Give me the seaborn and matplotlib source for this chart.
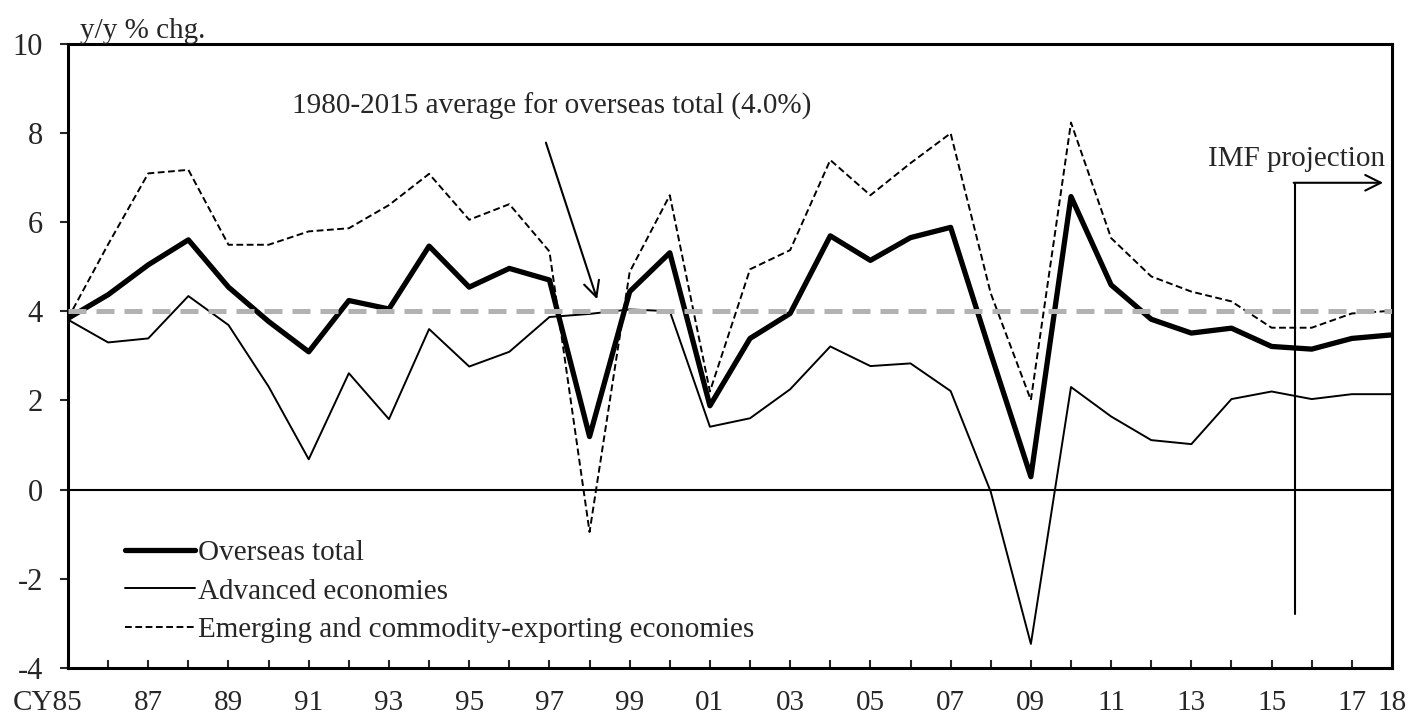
import numpy as np
import pandas as pd
import matplotlib
matplotlib.use("Agg")
import matplotlib.pyplot as plt
import matplotlib.transforms as mtransforms
import seaborn as sns

# values (y/y % chg.)
years = list(range(1985, 2019))
overseas = [3.84, 4.37, 5.04, 5.60, 4.54, 3.77, 3.09, 4.24, 4.05, 5.46, 4.54, 4.96, 4.70,
            1.19, 4.44, 5.31, 1.88, 3.39, 3.95, 5.69, 5.14, 5.65, 5.88, 3.05, 0.29, 6.57,
            4.59, 3.82, 3.51, 3.62, 3.21, 3.15, 3.39, 3.47]
advanced = [3.81, 3.30, 3.39, 4.34, 3.69, 2.31, 0.68, 2.61, 1.58, 3.60, 2.76, 3.09, 3.87,
            3.94, 4.04, 4.00, 1.41, 1.60, 2.25, 3.21, 2.77, 2.83, 2.21, -0.05, -3.46, 2.30,
            1.64, 1.11, 1.02, 2.03, 2.20, 2.03, 2.14, 2.14]
emerging = [3.84, 5.50, 7.09, 7.17, 5.49, 5.49, 5.79, 5.86, 6.38, 7.08, 6.05, 6.40, 5.34,
            -0.95, 4.88, 6.60, 2.20, 4.94, 5.37, 7.39, 6.60, 7.32, 7.99, 4.40, 2.01, 8.23,
            5.64, 4.78, 4.44, 4.22, 3.63, 3.63, 3.95, 4.01]
avg_overseas = 4.0

series_names = ["Overseas total", "Advanced economies",
                "Emerging and commodity-exporting economies"]
tick_labels = ["CY85" if y == 1985 else ("18" if y == 2018 else (f"{y % 100:02d}" if y % 2 == 1 else ""))
               for y in years]

df = pd.DataFrame({"year": years, "overseas": overseas,
                   "advanced": advanced, "emerging": emerging})

sns.set_style("white")
plt.rcParams["font.family"] = ["Liberation Serif", "DejaVu Serif"]
plt.rcParams["font.size"] = 21

fig, ax = plt.subplots(figsize=(14.08, 7.15), dpi=100)
fig.subplots_adjust(left=0.0483, right=0.9886, top=0.939, bottom=0.0657)

ax.axhline(0, color="black", lw=1.5, zorder=1)

sns.lineplot(data=df, x="year", y="overseas", ax=ax, color="black", lw=3.8,
             label=series_names[0], zorder=3)
sns.lineplot(data=df, x="year", y="advanced", ax=ax, color="black", lw=1.4,
             label=series_names[1], zorder=3)
sns.lineplot(data=df, x="year", y="emerging", ax=ax, color="black", lw=1.4,
             linestyle=(0, (3.5, 1.8)), label=series_names[2], zorder=3)

ax.axhline(avg_overseas, color="#b2b2b2", lw=3.6, linestyle=(0, (3.6, 2.0)), zorder=4)

ax.set_xlim(1985, 2018)
ax.set_ylim(-4, 10)
ax.set_yticks(np.arange(-4, 11, 2))
ax.set_yticklabels([f"{v:d}" for v in range(-4, 11, 2)])
ax.set_xticks(years)
ax.set_xticklabels(tick_labels)
ax.set_xlabel("")
ax.set_ylabel("")

for s in ax.spines.values():
    s.set_color("black")
    s.set_linewidth(2.2)
ax.tick_params(axis="x", direction="in", length=6, width=1.5, pad=16, labelsize=21, bottom=True)
ax.tick_params(axis="y", direction="out", length=6, width=1.5, pad=12, labelsize=22, left=True)

# nudge the first label left like the original
lbl = ax.get_xticklabels()[0]
lbl.set_transform(lbl.get_transform() + mtransforms.ScaledTranslation(-20 / 100, 0, fig.dpi_scale_trans))

ax.text(0.009, 1.0, "y/y % chg.", transform=ax.transAxes, ha="left", va="bottom", fontsize=21)

# average annotation
ax.text(1990.58, 8.6, "1980-2015 average for overseas total (4.0%)", ha="left", va="center",
        fontsize=21)
ax.annotate("", xy=(1998.21, 4.21), xytext=(1996.89, 7.84),
            arrowprops=dict(arrowstyle="->", lw=1.5, color="black", mutation_scale=28))

# IMF projection marker
ax.plot([2015.58, 2015.58], [-2.79, 6.88], color="black", lw=1.5, zorder=5)
ax.annotate("", xy=(2017.78, 6.88), xytext=(2015.55, 6.88),
            arrowprops=dict(arrowstyle="->", lw=1.5, color="black", mutation_scale=28,
                            shrinkA=0, shrinkB=0))
ax.text(2017.83, 7.42, "IMF projection", ha="right", va="center", fontsize=21)

leg = ax.legend(loc="lower left", bbox_to_anchor=(0.043, 0.04), frameon=False,
                borderpad=0, borderaxespad=0, handlelength=2.4, handletextpad=0.1,
                labelspacing=0.41, fontsize=21)

fig.savefig("out.png", dpi=100)
